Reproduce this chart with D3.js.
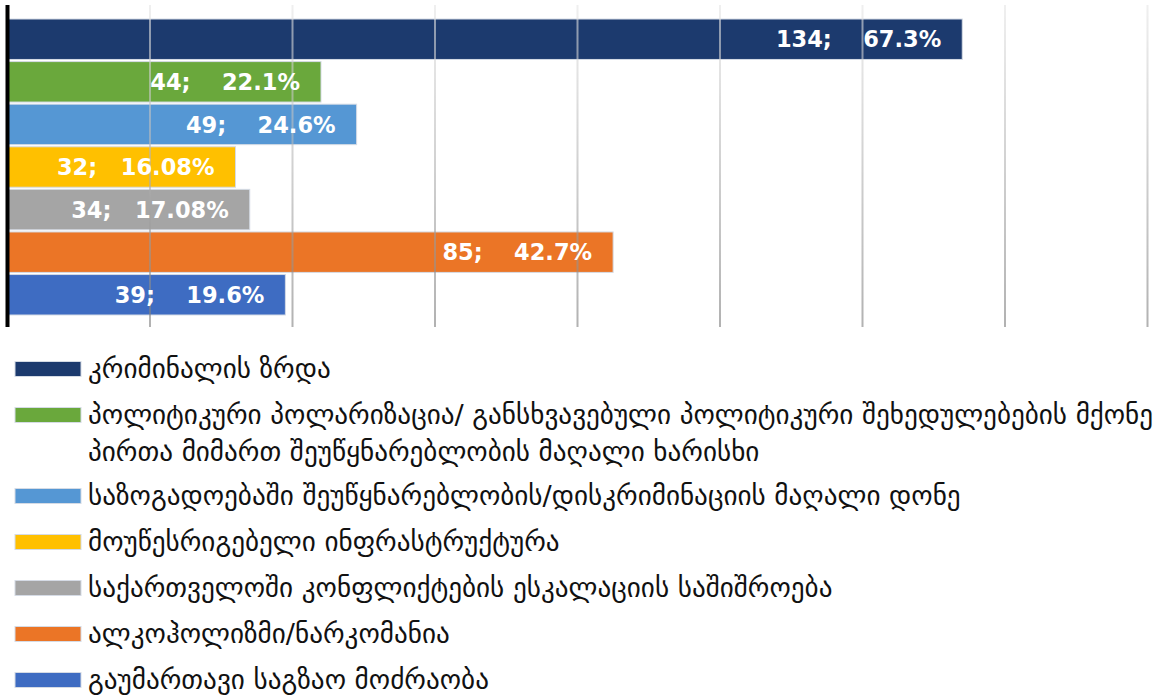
<!DOCTYPE html>
<html>
<head>
<meta charset="utf-8">
<script src="https://cdn.jsdelivr.net/npm/d3@7"></script>
<style>
html,body{margin:0;padding:0;background:#fff;}
svg{display:block;}
</style>
</head>
<body>
<svg id="chart" width="1163" height="696"></svg>
<script>
// ---- data ----
const categories = [
  "კრიმინალის ზრდა",
  "პოლიტიკური პოლარიზაცია/ განსხვავებული პოლიტიკური შეხედულებების მქონე პირთა მიმართ შეუწყნარებლობის მაღალი ხარისხი",
  "საზოგადოებაში შეუწყნარებლობის/დისკრიმინაციის მაღალი დონე",
  "მოუწესრიგებელი ინფრასტრუქტურა",
  "საქართველოში კონფლიქტების ესკალაციის საშიშროება",
  "ალკოჰოლიზმი/ნარკომანია",
  "გაუმართავი საგზაო მოძრაობა"
];
const legendLines = [
  ["კრიმინალის ზრდა"],
  ["პოლიტიკური პოლარიზაცია/ განსხვავებული პოლიტიკური შეხედულებების მქონე",
   "პირთა მიმართ შეუწყნარებლობის მაღალი ხარისხი"],
  ["საზოგადოებაში შეუწყნარებლობის/დისკრიმინაციის მაღალი დონე"],
  ["მოუწესრიგებელი ინფრასტრუქტურა"],
  ["საქართველოში კონფლიქტების ესკალაციის საშიშროება"],
  ["ალკოჰოლიზმი/ნარკომანია"],
  ["გაუმართავი საგზაო მოძრაობა"]
];
const counts = [134, 44, 49, 32, 34, 85, 39];
const percents = ["67.3%", "22.1%", "24.6%", "16.08%", "17.08%", "42.7%", "19.6%"];
const colors = ["#1c3a6e", "#6aa83c", "#5597d4", "#ffc000", "#a5a5a5", "#eb7526", "#3e6cc2"];
const xTicks = [0, 20, 40, 60, 80, 100, 120, 140, 160];

// ---- layout ----
const svg = d3.select("#chart");
const x = d3.scaleLinear().domain([0, 160]).range([7.5, 1147.5]);
const y = d3.scaleBand().domain(d3.range(categories.length)).range([19, 315]).paddingInner(0.05).paddingOuter(0);
const plotTop = 5, plotBottom = 327;

const defs = svg.append("defs");
const grad = defs.append("linearGradient").attr("id", "gridGrad")
  .attr("gradientUnits", "userSpaceOnUse").attr("x1", 0).attr("y1", plotTop).attr("x2", 0).attr("y2", plotBottom);
grad.append("stop").attr("offset", "0%").attr("stop-color", "#e6e6e6");
grad.append("stop").attr("offset", "100%").attr("stop-color", "#7f7f7f");

// bars
svg.append("g").selectAll("rect").data(counts).join("rect")
  .attr("x", x(0))
  .attr("y", (d, i) => y(i))
  .attr("width", d => x(d) - x(0))
  .attr("height", y.bandwidth())
  .attr("fill", (d, i) => colors[i])
  .attr("stroke", "#d5dbe5")
  .attr("stroke-width", 1);

// gridlines (over bars, translucent)
svg.append("g").selectAll("line").data(xTicks.filter(t => t > 0)).join("line")
  .attr("x1", d => x(d)).attr("x2", d => x(d))
  .attr("y1", plotTop).attr("y2", plotBottom)
  .attr("stroke", "url(#gridGrad)")
  .attr("stroke-width", 2)
  .attr("opacity", 0.6);

// axis line
svg.append("line")
  .attr("x1", x(0)).attr("x2", x(0))
  .attr("y1", plotTop).attr("y2", plotBottom)
  .attr("stroke", "#000").attr("stroke-width", 4);

// data labels
svg.append("g").selectAll("text").data(counts).join("text")
  .attr("x", d => x(d) - 21)
  .attr("y", (d, i) => y(i) + y.bandwidth() / 2)
  .attr("dy", "0.36em")
  .attr("text-anchor", "end")
  .attr("fill", "#fff")
  .style("font-family", "'DejaVu Sans', sans-serif")
  .style("font-weight", "bold")
  .style("font-size", "22.5px")
  .style("white-space", "pre")
  .text((d, i) => d + ";" + (percents[i].length >= 6 ? "   " : "    ") + percents[i]);

// legend
const lg = svg.append("g");
const legendFont = "'DejaVu Sans', 'Noto Sans', sans-serif";
// measure to fit longest line into available width
const probe = lg.append("text").style("font-family", legendFont).style("font-size", "100px")
  .text(legendLines[1][0]);
const w100 = probe.node().getComputedTextLength();
probe.remove();
const fs = Math.min(28, 100 * 1066 / w100);

let yy = 369;
legendLines.forEach((lines, i) => {
  lg.append("rect")
    .attr("x", 15).attr("y", yy - 7.5)
    .attr("width", 66).attr("height", 15)
    .attr("fill", colors[i])
    .attr("stroke", "#d5dbe5").attr("stroke-width", 1);
  const t = lg.append("text")
    .attr("x", 88).attr("y", yy)
    .style("font-family", legendFont)
    .style("font-size", fs + "px")
    .attr("fill", "#111");
  lines.forEach((ln, j) => {
    t.append("tspan").attr("x", 88).attr("y", yy + j * 37.5).attr("dy", "0.32em").text(ln);
  });
  yy += 46 + (lines.length - 1) * 35;
});
</script>
</body>
</html>
